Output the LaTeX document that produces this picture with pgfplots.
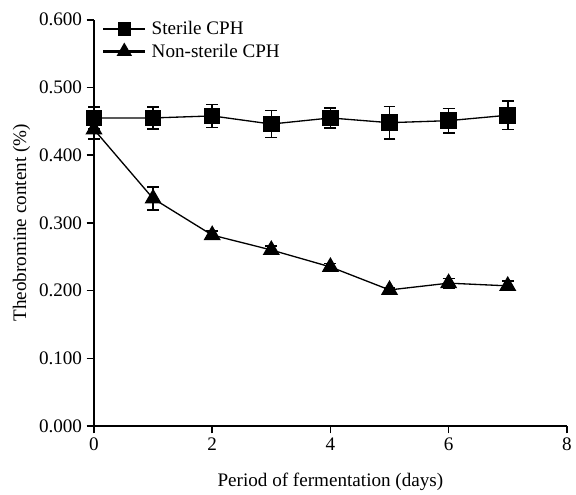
\documentclass[border=0pt]{standalone}
\usepackage{fontspec}
\setmainfont{Liberation Serif}
\usepackage{pgfplots}
\pgfplotsset{compat=1.18}
\begin{document}
\begin{tikzpicture}
\begin{axis}[
    name=ax,
    scale only axis,
    width=358.5pt, height=308pt,
    xmin=0, xmax=8, ymin=0, ymax=0.6,
    xtick={0,2,4,6,8},
    ytick={0,0.1,0.2,0.3,0.4,0.5,0.6},
    yticklabel style={/pgf/number format/.cd, fixed, fixed zerofill, precision=3},
    /pgf/number format/assume math mode=true,
    axis lines=left,
    axis line style={line width=1.6pt, -},
    tick style={line width=1.2pt, black},
    tick align=outside,
    major tick length=5.5pt,
    tick label style={font=\fontsize{14.5}{16}\selectfont},
    label style={font=\fontsize{14.5}{16}\selectfont},
    xlabel={Period of fermentation (days)},
    ylabel={Theobromine content (\%)},
    xlabel style={at={(axis description cs:0.5,0)}, anchor=center, yshift=-42pt},
    ylabel style={at={(axis description cs:0,0.5)}, anchor=center, yshift=55pt},
    clip=false,
    legend style={draw=none, fill=none, at={(axis description cs:0,1)}, anchor=north west,
        xshift=3pt, yshift=3pt, font=\fontsize{14.5}{16}\selectfont, row sep=1.5pt,
        column sep=2pt},
    legend cell align=left,
]
\addlegendimage{black, line width=1.6pt, mark=square*, mark size=4.2pt,
    legend image code/.code={
        \draw[line width=1.6pt] (0pt,0pt) -- (32pt,0pt);
        \draw[mark repeat=2,mark phase=2] plot coordinates {(0pt,0pt) (16pt,0pt) (32pt,0pt)};
    }}
\addlegendentry{Sterile CPH}
\addlegendimage{black, line width=1.6pt, mark=triangle*, mark size=5.2pt,
    legend image code/.code={
        \draw[line width=1.6pt] (0pt,0pt) -- (32pt,0pt);
        \draw[mark repeat=2,mark phase=2] plot coordinates {(0pt,0pt) (16pt,0pt) (32pt,0pt)};
    }}
\addlegendentry{Non-sterile CPH}
\addplot[black, line width=1pt, mark=square*, mark size=5.8pt, forget plot,
    error bars/.cd, y dir=both, y explicit,
    error bar style={line width=1.2pt},
    error mark options={rotate=90, mark size=4.5pt, line width=1.2pt}]
coordinates {
    (0,0.455) +- (0,0.016)
    (1,0.455) +- (0,0.016)
    (2,0.458) +- (0,0.017)
    (3,0.446) +- (0,0.020)
    (4,0.455) +- (0,0.015)
    (5,0.448) +- (0,0.024)
    (6,0.451) +- (0,0.018)
    (7,0.459) +- (0,0.021)
};
\addplot[black, line width=1pt, mark=triangle*, mark size=6.5pt, forget plot,
    error bars/.cd, y dir=both, y explicit,
    error bar style={line width=1.2pt},
    error mark options={rotate=90, mark size=4.5pt, line width=1.2pt}]
coordinates {
    (0,0.438) +- (0,0.014)
    (1,0.336) +- (0,0.017)
    (2,0.282) +- (0,0.006)
    (3,0.260) +- (0,0.006)
    (4,0.235) +- (0,0.005)
    (5,0.201) +- (0,0.003)
    (6,0.211) +- (0,0.007)
    (7,0.207) +- (0,0.007)
};
\end{axis}
\path ([xshift=-71.25pt,yshift=15pt]ax.north west);
\end{tikzpicture}
\end{document}
